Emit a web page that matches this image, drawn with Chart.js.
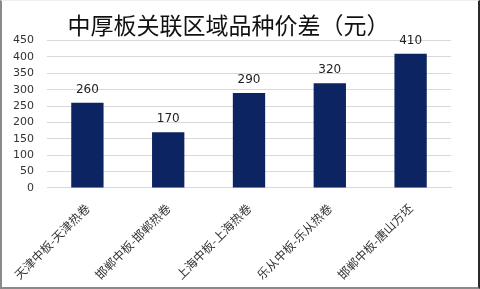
<!DOCTYPE html>
<html>
<head>
<meta charset="utf-8">
<script src="https://cdn.jsdelivr.net/npm/chart.js@4"></script>
<style>
  html, body { margin: 0; padding: 0; background: #fff; }
  #wrap {
    position: relative; width: 480px; height: 289px; box-sizing: border-box;
    border-left: 2px solid #8a8a8a; border-bottom: 2px solid #8a8a8a;
    border-right: 2px solid #2a2a2a; border-top: 1px solid #f0f0f0;
  }
  canvas { display: block; }
</style>
</head>
<body>
<div id="wrap"><canvas id="grafico" width="476" height="286"></canvas></div>
<script>
// categorie e valori
const categorie = ['天津中板-天津热卷', '邯郸中板-邯郸热卷', '上海中板-上海热卷', '乐从中板-乐从热卷', '邯郸中板-唐山方坯'];
const valori = [260, 170, 290, 320, 410];
const titolo = '中厚板关联区域品种价差（元）';

// scrive il valore sopra ogni barra
const etichetteValori = {
    id: 'etichetteValori',
    afterDatasetsDraw(chart) {
        const ctx = chart.ctx;
        const meta = chart.getDatasetMeta(0);
        ctx.save();
        ctx.font = '12px "DejaVu Sans", sans-serif';
        ctx.fillStyle = '#222';
        ctx.textAlign = 'center';
        ctx.textBaseline = 'bottom';
        meta.data.forEach((bar, i) => {
            ctx.fillText(valori[i], bar.x, bar.y - 7);
        });
        ctx.restore();
    }
};

const ctx = document.getElementById('grafico');
new Chart(ctx, {
    type: 'bar',
    data: {
        labels: categorie,
        datasets: [{
            data: valori,
            backgroundColor: '#0c2461',
            categoryPercentage: 1,
            barPercentage: 0.4
        }]
    },
    options: {
        responsive: false,
        animation: false,
        layout: { padding: { left: 4, right: 27, top: 2, bottom: 0 } },
        plugins: {
            legend: { display: false },
            tooltip: { enabled: false },
            title: {
                display: true,
                text: titolo,
                color: '#111',
                font: { size: 23, family: '"Noto Sans CJK SC", sans-serif', weight: 'normal' },
                padding: { top: 8, bottom: 2 }
            }
        },
        scales: {
            x: {
                grid: { display: false },
                border: { color: '#d9d9d9' },
                afterFit: (s) => { s.paddingLeft = 0; s.paddingRight = 0; }, // le etichette ruotate non spostano l'area
                ticks: {
                    color: '#333',
                    padding: 5,
                    minRotation: 45, maxRotation: 45,
                    font: { size: 12, family: '"Noto Sans CJK SC", sans-serif' }
                }
            },
            y: {
                min: 0, max: 450,
                afterFit: (s) => { s.width = 41; },
                ticks: {
                    stepSize: 50,
                    color: '#333',
                    padding: 13,
                    font: { size: 11, family: '"DejaVu Sans", sans-serif' }
                },
                grid: { color: '#d9d9d9', drawTicks: false },
                border: { display: false }
            }
        }
    },
    plugins: [etichetteValori]
});
</script>
</body>
</html>
